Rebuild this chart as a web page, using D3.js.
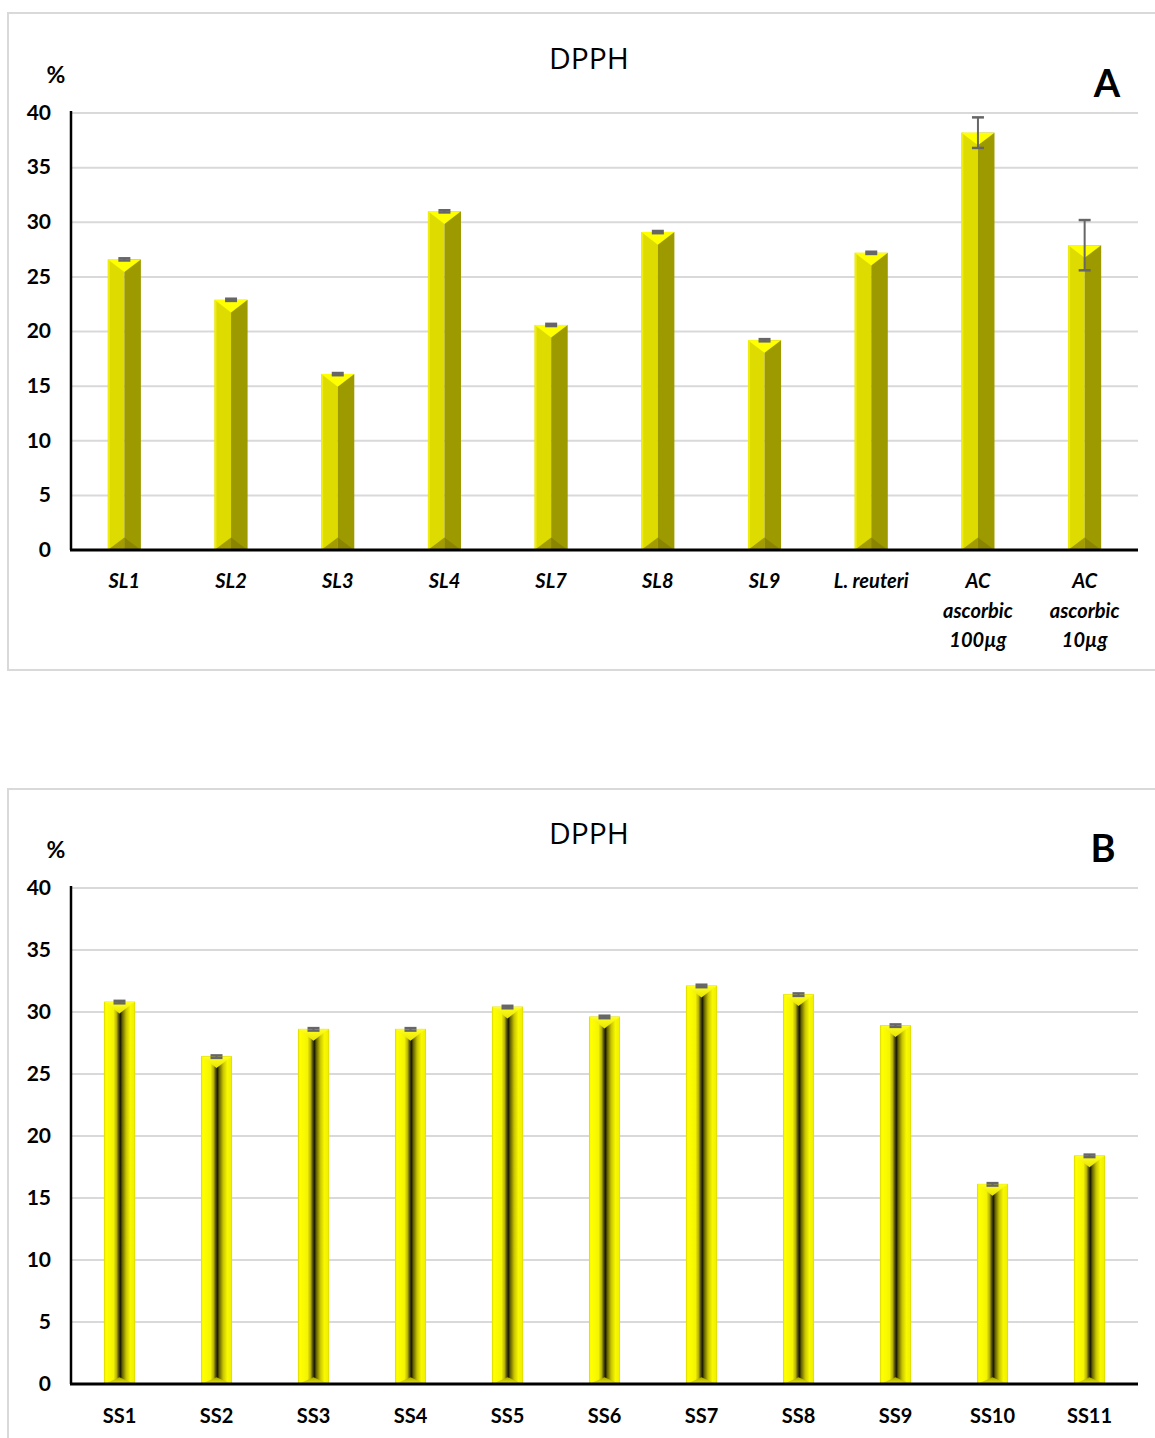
<!DOCTYPE html>
<html>
<head>
<meta charset="utf-8">
<script src="https://cdn.jsdelivr.net/npm/d3@7"></script>
<style>
  html, body { margin: 0; padding: 0; background: #fff; }
  svg { display: block; }
</style>
</head>
<body>
<svg id="chart" width="1155" height="1438"></svg>
<script>
// Panel A: DPPH scavenging (%) of SL strains, L. reuteri and ascorbic acid
const catsA = ["SL1", "SL2", "SL3", "SL4", "SL7", "SL8", "SL9", "L. reuteri", "AC ascorbic 100µg", "AC ascorbic 10µg"];
const labelLinesA = [["SL1"], ["SL2"], ["SL3"], ["SL4"], ["SL7"], ["SL8"], ["SL9"], ["L. reuteri"], ["AC", "ascorbic", "100µg"], ["AC", "ascorbic", "10µg"]];
const valuesA = [26.6, 22.9, 16.1, 31.0, 20.6, 29.1, 19.2, 27.2, 38.2, 27.9];
const errorsA = [0.1, 0.1, 0.1, 0.1, 0.1, 0.1, 0.1, 0.1, 1.4, 2.3];

// Panel B: DPPH scavenging (%) of SS strains
const catsB = ["SS1", "SS2", "SS3", "SS4", "SS5", "SS6", "SS7", "SS8", "SS9", "SS10", "SS11"];
const valuesB = [30.8, 26.4, 28.6, 28.6, 30.4, 29.6, 32.1, 31.4, 28.9, 16.1, 18.4];
const errorsB = [0.1, 0.1, 0.1, 0.1, 0.1, 0.1, 0.1, 0.1, 0.1, 0.1, 0.1];

const yTicks = [0, 5, 10, 15, 20, 25, 30, 35, 40];

const svg = d3.select("#chart");
const defs = svg.append("defs");

// Rounded-bevel gradient used by panel B bars
const gB = defs.append("linearGradient").attr("id", "bevelB").attr("x1", "0").attr("x2", "1").attr("y1", "0").attr("y2", "0");
[[0, "#f2f200"], [0.06, "#ffff00"], [0.3, "#f4f400"], [0.4, "#b8b400"], [0.48, "#4a4800"], [0.53, "#1a1a00"], [0.6, "#6a6800"], [0.72, "#c8c400"], [0.86, "#f8f800"], [1, "#f0f000"]]
  .forEach(([o, c]) => gB.append("stop").attr("offset", o).attr("stop-color", c));
const gBtop = defs.append("linearGradient").attr("id", "bevelBtop").attr("x1", "0").attr("x2", "0").attr("y1", "0").attr("y2", "1");
[[0, "#ffff20"], [1, "#e8e400"]].forEach(([o, c]) => gBtop.append("stop").attr("offset", o).attr("stop-color", c));
const gBbot = defs.append("linearGradient").attr("id", "bevelBbot").attr("x1", "0").attr("x2", "0").attr("y1", "0").attr("y2", "1");
[[0, "#a8a400"], [1, "#f0f000"]].forEach(([o, c]) => gBbot.append("stop").attr("offset", o).attr("stop-color", c));

const left = 71, right = 1138;
const labelFont = "Lato, 'Liberation Sans', sans-serif";
const titleFont = "'Open Sans', 'Noto Sans', sans-serif";

function panel(opts) {
  const g = svg.append("g");

  // panel frame
  g.append("rect")
    .attr("x", 8).attr("y", opts.frameTop)
    .attr("width", 1160).attr("height", opts.frameH)
    .attr("fill", "none").attr("stroke", "#d9d9d9").attr("stroke-width", 2);

  const y = d3.scaleLinear().domain([0, 40]).range([opts.bottom, opts.top]);
  const x = d3.scaleBand().domain(opts.cats).range([left, right])
    .paddingInner(0.69).paddingOuter(0.345);

  // gridlines
  g.append("g").selectAll("line").data(yTicks.filter(d => d > 0)).join("line")
    .attr("x1", left).attr("x2", right)
    .attr("y1", d => y(d)).attr("y2", d => y(d))
    .attr("stroke", "#d9d9d9").attr("stroke-width", 2);

  // y axis tick labels
  const yAxis = d3.axisLeft(y).tickValues(yTicks).tickSize(0).tickPadding(20);
  const ya = g.append("g").attr("transform", `translate(${left},0)`).call(yAxis);
  ya.select(".domain").remove();
  ya.selectAll("text")
    .attr("font-family", labelFont).attr("font-weight", "bold")
    .attr("font-size", 21).attr("fill", "#000").attr("dy", "0.3em");

  // bars
  const bars = g.append("g").selectAll("g").data(opts.cats).join("g");
  bars.each(function (c, i) {
    const b = d3.select(this);
    const x0 = x(c), w = x.bandwidth(), x1 = x0 + w, xc = x0 + w / 2;
    const yt = y(opts.values[i]), yb = y(0);
    const d = w * 0.38;
    if (opts.style === "A") {
      b.append("rect").attr("x", x0).attr("y", yt).attr("width", w / 2).attr("height", yb - yt).attr("fill", "#dedb00");
      b.append("rect").attr("x", x0).attr("y", yt).attr("width", 2).attr("height", yb - yt).attr("fill", "#eeec10");
      b.append("rect").attr("x", xc).attr("y", yt).attr("width", w / 2).attr("height", yb - yt).attr("fill", "#9d9a00");
      b.append("path").attr("d", `M${x0},${yt}L${x1},${yt}L${xc},${yt + d}Z`).attr("fill", "#ffff00");
      b.append("path").attr("d", `M${x0},${yb}L${xc},${yb}L${xc},${yb - d}Z`).attr("fill", "#a29c00");
      b.append("path").attr("d", `M${xc},${yb}L${x1},${yb}L${xc},${yb - d}Z`).attr("fill", "#8a8500");
    } else {
      b.append("rect").attr("x", x0).attr("y", yt).attr("width", w).attr("height", yb - yt)
        .attr("fill", "url(#bevelB)").attr("stroke", "#e4e000").attr("stroke-width", 1);
      b.append("path").attr("d", `M${x0},${yt}L${x1},${yt}L${xc},${yt + d}Z`).attr("fill", "url(#bevelBtop)");
      b.append("path").attr("d", `M${x0},${yb}L${x1},${yb}L${xc},${yb - d * 0.6}Z`).attr("fill", "url(#bevelBbot)");
    }
    // error bar
    const e = opts.errors[i];
    const ye1 = y(opts.values[i] + e), ye0 = y(opts.values[i] - e);
    b.append("line").attr("x1", xc).attr("x2", xc).attr("y1", ye1).attr("y2", ye0)
      .attr("stroke", "#666").attr("stroke-width", 2);
    [ye1, ye0].forEach(yy => b.append("line").attr("x1", xc - 6).attr("x2", xc + 6)
      .attr("y1", yy).attr("y2", yy).attr("stroke", "#666").attr("stroke-width", 2.5));
  });

  // axes lines
  g.append("line").attr("x1", left).attr("x2", left).attr("y1", opts.top - 2).attr("y2", opts.bottom)
    .attr("stroke", "#000").attr("stroke-width", 2.5);
  g.append("line").attr("x1", left - 1).attr("x2", right).attr("y1", opts.bottom).attr("y2", opts.bottom)
    .attr("stroke", "#000").attr("stroke-width", 3);

  // category labels
  const lab = g.append("g").selectAll("text").data(opts.cats).join("text")
    .attr("x", c => x(c) + x.bandwidth() / 2)
    .attr("y", opts.bottom + opts.labelOffset)
    .attr("text-anchor", "middle")
    .attr("font-family", labelFont).attr("font-weight", "bold")
    .attr("font-style", opts.italic ? "italic" : "normal")
    .attr("font-size", 20).attr("fill", "#000");
  lab.each(function (c, i) {
    const lines = opts.lines ? opts.lines[i] : [c];
    d3.select(this).selectAll("tspan").data(lines).join("tspan")
      .attr("x", x(c) + x.bandwidth() / 2)
      .attr("dy", (l, k) => k === 0 ? 0 : 29.5)
      .text(l => l);
  });

  // titles
  g.append("text").attr("x", 589).attr("y", opts.top - 44).attr("text-anchor", "middle")
    .attr("font-family", titleFont).attr("font-size", 30).attr("fill", "#000").text("DPPH");
  g.append("text").attr("x", 56).attr("y", opts.top - 30).attr("text-anchor", "middle")
    .attr("font-family", labelFont).attr("font-weight", "bold").attr("font-size", 23).attr("fill", "#000").text("%");
  g.append("text").attr("x", opts.letterX).attr("y", opts.letterY).attr("text-anchor", "middle")
    .attr("font-family", labelFont).attr("font-weight", "bold").attr("font-size", 38).attr("fill", "#000").text(opts.letter);
}

panel({
  cats: catsA, lines: labelLinesA, values: valuesA, errors: errorsA,
  top: 113, bottom: 550, frameTop: 13, frameH: 657, style: "A", italic: true,
  labelOffset: 38, letter: "A", letterX: 1107, letterY: 97
});
panel({
  cats: catsB, values: valuesB, errors: errorsB,
  top: 888, bottom: 1384, frameTop: 789, frameH: 700, style: "B", italic: false,
  labelOffset: 39, letter: "B", letterX: 1103, letterY: 862
});
</script>
</body>
</html>
